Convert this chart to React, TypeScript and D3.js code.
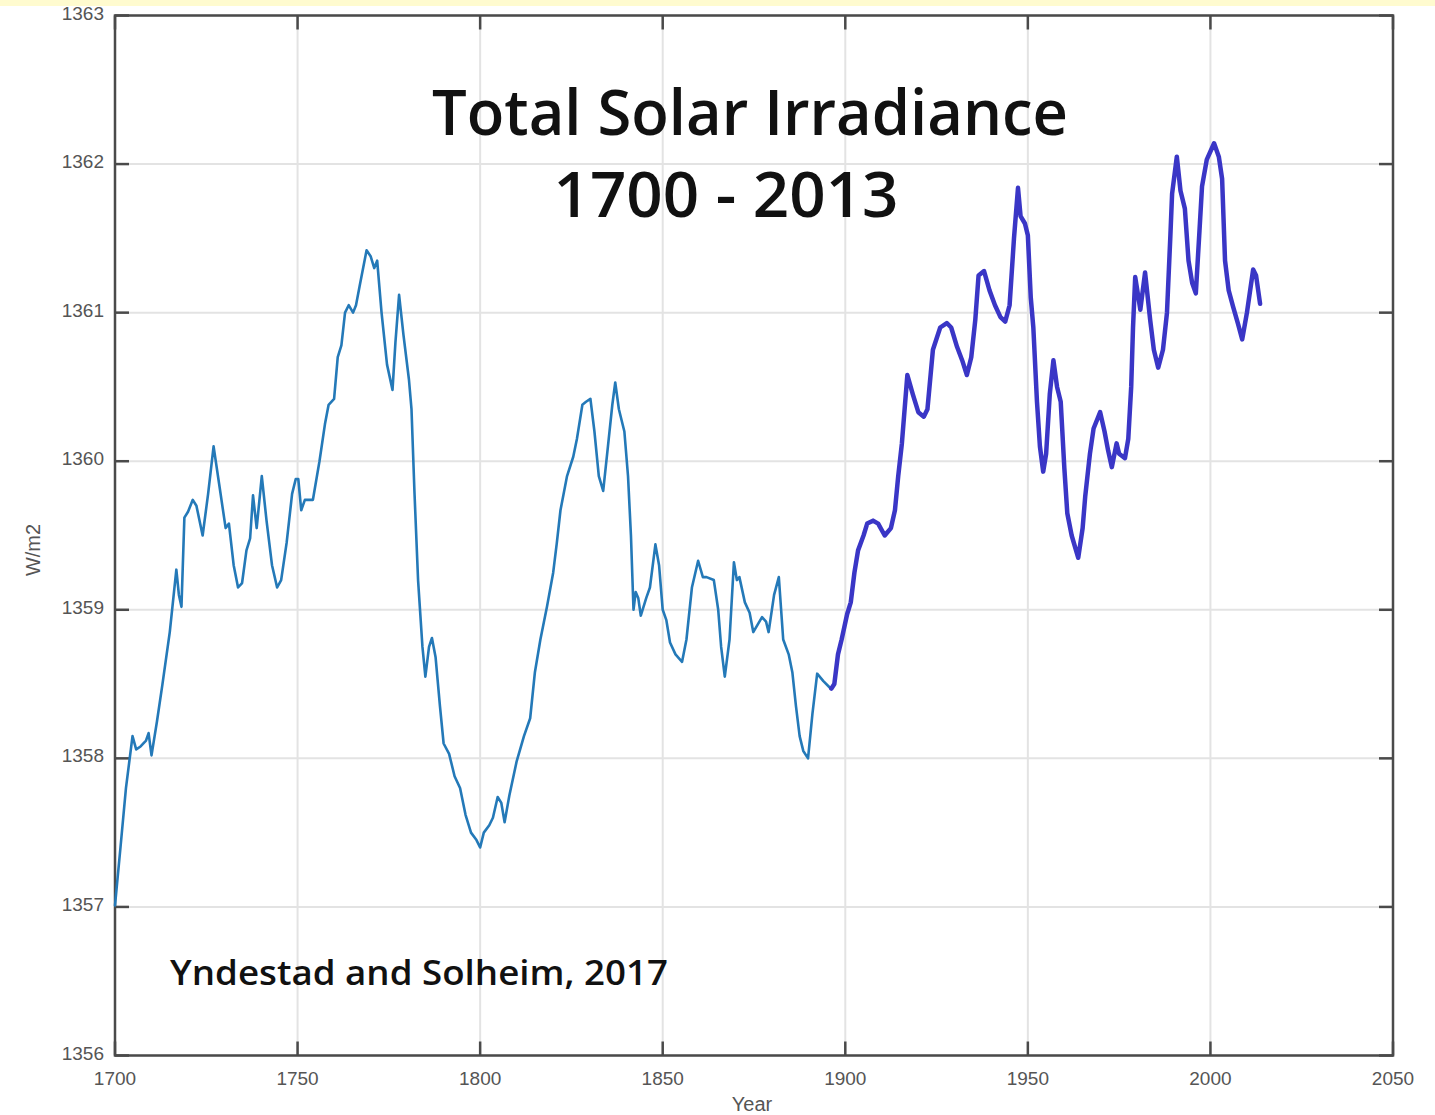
import React from "react";
import * as d3 from "d3";

const years1 = [1700,1701.5,1703,1704.8,1705.8,1707,1708.5,1709.2,1710,1711.5,1713,1715,1716.8,1717.5,1718.2,1719,1720,1721.3,1722.3,1724,1725.5,1727,1728.5,1730.3,1731.2,1732.5,1733.7,1734.8,1736,1737,1737.8,1738.8,1740.2,1741.5,1743,1744.4,1745.5,1747,1748.5,1749.5,1750.2,1751,1752,1754.2,1756,1757.5,1758.5,1760,1761,1762,1763,1764,1765.2,1766,1767,1768.9,1770,1771,1771.8,1773,1774.5,1776,1776.8,1777.8,1779,1780.5,1781.2,1782,1783,1784.2,1785,1786,1786.8,1787.8,1789,1790,1791.5,1793,1794.5,1796,1797.5,1799,1800,1801,1802.5,1803.5,1804.8,1805.8,1806.7,1808,1810,1812,1813.7,1815,1816.5,1818.3,1820,1821,1822,1823.8,1825.5,1826.5,1828,1829,1830.2,1831.3,1832.5,1833.7,1835,1836.2,1837,1838,1839.5,1840.5,1841.3,1842,1842.6,1843.3,1844,1845.5,1846.5,1848,1849,1850,1851,1852,1853.5,1855.3,1856.5,1858,1859.7,1861,1862,1864,1865.2,1866,1867,1868.3,1869.5,1870.3,1871,1872.5,1873.8,1874.8,1876,1877.2,1878.3,1879,1880.5,1881.8,1883,1884.5,1885.5,1886.5,1887.5,1888.5,1889.8,1891,1892.3,1894,1896];
const tsi1 = [1357.01,1357.4,1357.8,1358.15,1358.06,1358.08,1358.12,1358.17,1358.02,1358.25,1358.5,1358.85,1359.27,1359.1,1359.02,1359.62,1359.66,1359.74,1359.7,1359.5,1359.78,1360.1,1359.85,1359.55,1359.58,1359.3,1359.15,1359.18,1359.4,1359.48,1359.77,1359.55,1359.9,1359.6,1359.3,1359.15,1359.2,1359.45,1359.78,1359.88,1359.88,1359.67,1359.74,1359.74,1360.0,1360.25,1360.38,1360.42,1360.7,1360.78,1361.0,1361.05,1361.0,1361.05,1361.18,1361.42,1361.38,1361.3,1361.35,1361.0,1360.65,1360.48,1360.8,1361.12,1360.85,1360.55,1360.35,1359.8,1359.2,1358.75,1358.55,1358.75,1358.81,1358.68,1358.35,1358.1,1358.03,1357.88,1357.8,1357.62,1357.5,1357.45,1357.4,1357.5,1357.55,1357.6,1357.74,1357.7,1357.57,1357.75,1357.98,1358.15,1358.27,1358.58,1358.8,1359.02,1359.25,1359.45,1359.67,1359.9,1360.03,1360.15,1360.38,1360.4,1360.42,1360.2,1359.9,1359.8,1360.1,1360.38,1360.53,1360.35,1360.2,1359.9,1359.5,1359.0,1359.12,1359.08,1358.96,1359.08,1359.15,1359.44,1359.3,1359.0,1358.93,1358.78,1358.7,1358.65,1358.8,1359.15,1359.33,1359.22,1359.22,1359.2,1359.0,1358.75,1358.55,1358.8,1359.32,1359.2,1359.22,1359.05,1358.98,1358.85,1358.9,1358.95,1358.92,1358.85,1359.1,1359.22,1358.8,1358.7,1358.58,1358.35,1358.15,1358.05,1358.0,1358.3,1358.57,1358.52,1358.47];

const years2 = [1896.2,1897,1898,1899,1900.5,1901.5,1902.5,1903.5,1905,1906,1907.6,1909,1910.8,1912.5,1913.6,1914.5,1915.5,1917,1918.5,1920,1921.5,1922.5,1924,1926,1927.8,1929,1930.6,1932,1933.3,1934.5,1935.6,1936.5,1938,1939.5,1941,1942.5,1943.8,1945,1946.2,1947.3,1948,1949.2,1950,1950.8,1951.5,1952.5,1953.3,1954.2,1955,1956,1957,1958,1959,1960,1960.8,1962,1963.8,1965,1965.7,1967,1968,1969.8,1971,1972,1973,1974.3,1975,1976.6,1977.5,1978.3,1978.8,1979.4,1980.8,1982.1,1983.5,1984.5,1985.7,1987,1988.1,1989,1989.5,1990.8,1991.8,1993,1994,1995,1996,1997,1997.7,1999,2001,2002.3,2003.2,2004,2005,2006.2,2007.5,2008.7,2010,2011.7,2012.5,2013.6];
const tsi2 = [1358.47,1358.5,1358.7,1358.8,1358.97,1359.05,1359.25,1359.4,1359.5,1359.58,1359.6,1359.58,1359.5,1359.55,1359.67,1359.9,1360.12,1360.58,1360.45,1360.33,1360.3,1360.35,1360.75,1360.9,1360.93,1360.9,1360.77,1360.68,1360.58,1360.7,1360.95,1361.25,1361.28,1361.15,1361.05,1360.97,1360.94,1361.05,1361.5,1361.84,1361.65,1361.6,1361.52,1361.1,1360.9,1360.4,1360.1,1359.93,1360.05,1360.45,1360.68,1360.5,1360.4,1359.95,1359.65,1359.5,1359.35,1359.55,1359.76,1360.05,1360.22,1360.33,1360.2,1360.07,1359.96,1360.12,1360.05,1360.02,1360.15,1360.5,1360.9,1361.24,1361.02,1361.27,1360.95,1360.75,1360.63,1360.75,1361.0,1361.5,1361.8,1362.05,1361.82,1361.7,1361.35,1361.2,1361.13,1361.55,1361.85,1362.03,1362.14,1362.05,1361.9,1361.35,1361.15,1361.04,1360.93,1360.82,1361.0,1361.29,1361.25,1361.06];

const xTicks = [1700, 1750, 1800, 1850, 1900, 1950, 2000, 2050];
const yTicks = [1356, 1357, 1358, 1359, 1360, 1361, 1362, 1363];

const W = 1435, H = 1115;
const L = 115, R = 1393, T = 15.5, B = 1055.5;

export default function App() {
  const x = d3.scaleLinear().domain([1700, 2050]).range([L, R]);
  const y = d3.scaleLinear().domain([1356, 1363]).range([B, T]);
  const line = d3.line<[number, number]>().x(d => x(d[0])).y(d => y(d[1]));
  const d1 = line(years1.map((yr, i) => [yr, tsi1[i]] as [number, number])) || "";
  const d2 = line(years2.map((yr, i) => [yr, tsi2[i]] as [number, number])) || "";
  const tickLen = 14;
  const axisColor = "#4a4a4a";
  const labelColor = "#555";
  const font = "'Liberation Sans', Arial, Helvetica, sans-serif";
  const titleFont = "'Open Sans', 'Noto Sans', sans-serif";
  return (
    <svg width={W} height={H} style={{ position: "absolute", left: 0, top: 0, background: "#fff" }}>
      <rect x={0} y={0} width={W} height={H} fill="#fff" />
      <rect x={0} y={0} width={W} height={6} fill="#fffbcf" />
      {/* grid */}
      {xTicks.map(t => (
        <line key={"gx" + t} x1={x(t)} x2={x(t)} y1={T} y2={B} stroke="#e3e3e3" strokeWidth={2} />
      ))}
      {yTicks.map(t => (
        <line key={"gy" + t} x1={L} x2={R} y1={y(t)} y2={y(t)} stroke="#e3e3e3" strokeWidth={2} />
      ))}
      {/* ticks */}
      {xTicks.map(t => (
        <g key={"tx" + t}>
          <line x1={x(t)} x2={x(t)} y1={B} y2={B - tickLen} stroke={axisColor} strokeWidth={2.5} />
          <line x1={x(t)} x2={x(t)} y1={T} y2={T + tickLen} stroke={axisColor} strokeWidth={2.5} />
          <text x={x(t)} y={B + 29} textAnchor="middle" fontFamily={font} fontSize={19} fill={labelColor}>{t}</text>
        </g>
      ))}
      {yTicks.map(t => (
        <g key={"ty" + t}>
          <line x1={L} x2={L + tickLen} y1={y(t)} y2={y(t)} stroke={axisColor} strokeWidth={2.5} />
          <line x1={R} x2={R - tickLen} y1={y(t)} y2={y(t)} stroke={axisColor} strokeWidth={2.5} />
          <text x={104} y={y(t) + 4} textAnchor="end" fontFamily={font} fontSize={19} fill={labelColor}>{t}</text>
        </g>
      ))}
      {/* frame */}
      <rect x={L} y={T} width={R - L} height={B - T} fill="none" stroke={axisColor} strokeWidth={2.5} />
      {/* data */}
      <path d={d1} fill="none" stroke="#2479b8" strokeWidth={2.6} strokeLinejoin="round" strokeLinecap="round" />
      <path d={d2} fill="none" stroke="#3a36c6" strokeWidth={4.5} strokeLinejoin="round" strokeLinecap="round" />
      {/* labels */}
      <text x={752} y={1111} textAnchor="middle" fontFamily={font} fontSize={20} fill={labelColor}>Year</text>
      <text transform="translate(40,550) rotate(-90)" textAnchor="middle" fontFamily={font} fontSize={20} fill={labelColor}>W/m2</text>
      <text x={750} y={135} textAnchor="middle" fontFamily={titleFont} fontWeight={600} fontSize={64} fill="#111" textLength={636} lengthAdjust="spacingAndGlyphs">Total Solar Irradiance</text>
      <text x={726} y={217} textAnchor="middle" fontFamily={titleFont} fontWeight={600} fontSize={64} fill="#111" textLength={345} lengthAdjust="spacingAndGlyphs">1700 - 2013</text>
      <text x={170} y={985} fontFamily={titleFont} fontWeight={600} fontSize={34} fill="#111" textLength={498} lengthAdjust="spacingAndGlyphs">Yndestad and Solheim, 2017</text>
    </svg>
  );
}
